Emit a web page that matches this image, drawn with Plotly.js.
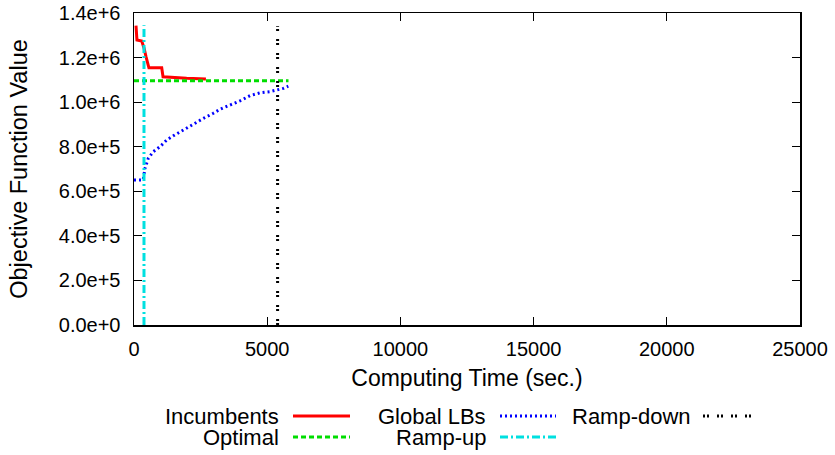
<!DOCTYPE html>
<html>
<head>
<meta charset="utf-8">
<script src="https://cdn.plot.ly/plotly-3.0.1.min.js"></script>
<style>html,body{margin:0;padding:0;background:#fff;}#chart{width:835px;height:455px;}</style>
</head>
<body>
<div id="chart"></div>
<script>
// Data
const incumbentsX = [75, 110, 290, 375, 450, 500, 560, 1040, 1090, 1975, 2700];
const incumbentsY = [1343000, 1279000, 1274000, 1243000, 1204000, 1181000, 1154000, 1154000, 1114000, 1107000, 1104000];

const optimalX = [0, 5800];
const optimalY = [1096000, 1096000];

const globalLBsX = [0, 340, 349, 413, 537, 724, 976, 1228, 1475, 1851, 2226, 2602, 2977, 3228, 3604, 3979, 4355, 4730, 5105, 5357, 5605, 5792];
const globalLBsY = [651000, 651000, 655000, 703000, 748000, 778000, 800000, 830000, 849000, 875000, 902000, 927000, 950000, 968000, 987000, 1006000, 1029000, 1042000, 1047000, 1054000, 1062000, 1072000];

const rampUpX = [375, 375];
const rampUpY = [0, 1345000];

const rampDownX = [5390, 5390];
const rampDownY = [0, 1340000];

const xTicks = [0, 5000, 10000, 15000, 20000, 25000];
const yTicks = [0, 200000, 400000, 600000, 800000, 1000000, 1200000, 1400000];

const legendRows = [
  {name: 'Incumbents', row: 0, col: 0, color: '#ff0000', dash: 'solid', width: 3},
  {name: 'Global LBs', row: 0, col: 1, color: '#0000ff', dash: '2px,3px', width: 3},
  {name: 'Ramp-down', row: 0, col: 2, color: '#000000', dash: '2px,2px,2px,8px', width: 3},
  {name: 'Optimal', row: 1, col: 0, color: '#00dd00', dash: '5px,3px', width: 3},
  {name: 'Ramp-up', row: 1, col: 1, color: '#00e0e0', dash: '8px,3px,2px,3px', width: 3}
];

const FONT = 'Liberation Sans, Arial, sans-serif';

const traces = [
  {x: incumbentsX, y: incumbentsY, mode: 'lines', line: {color: '#ff0000', width: 3}, name: 'Incumbents'},
  {x: optimalX, y: optimalY, mode: 'lines', line: {color: '#00dd00', width: 3, dash: '5px,3px'}, name: 'Optimal'},
  {x: globalLBsX, y: globalLBsY, mode: 'lines', line: {color: '#0000ff', width: 3, dash: '2px,3px'}, name: 'Global LBs'},
  {x: rampUpX, y: rampUpY, mode: 'lines', line: {color: '#00e0e0', width: 3, dash: '8px,3px,2px,3px'}, name: 'Ramp-up'},
  {x: rampDownX, y: rampDownY, mode: 'lines', line: {color: '#000000', width: 3, dash: '2px,2px,2px,8px'}, name: 'Ramp-down'}
];

// legend drawn gnuplot-style: text on the left, sample on the right
const L = 134, W = 666, T = 13, H = 312;
const px2x = p => (p - L) / W;
const py2y = p => (T + H - p) / H;
const colTextRight = [280, 487, 692];
const colSample = [[293, 350], [500, 556], [703, 753]];
const rowY = [416, 437];

const annotations = [];
const shapes = [];
legendRows.forEach(r => {
  annotations.push({
    xref: 'paper', yref: 'paper', x: px2x(colTextRight[r.col]), y: py2y(rowY[r.row]),
    xanchor: 'right', yanchor: 'middle', showarrow: false, text: r.name,
    borderpad: 0,
    font: {family: FONT, size: 22, color: '#000'}
  });
  shapes.push({
    type: 'line', xref: 'paper', yref: 'paper',
    x0: px2x(colSample[r.col][0]), x1: px2x(colSample[r.col][1]),
    y0: py2y(rowY[r.row]), y1: py2y(rowY[r.row]),
    line: {color: r.color, width: r.width, dash: r.dash}
  });
});

const layout = {
  width: 835, height: 455,
  margin: {l: L, r: 835 - L - W, t: T, b: 455 - T - H},
  paper_bgcolor: '#fff', plot_bgcolor: '#fff',
  showlegend: false,
  font: {family: FONT, color: '#000'},
  xaxis: {
    range: [0, 25000], tickvals: xTicks, ticktext: xTicks.map(String),
    ticks: 'inside', ticklen: 8, tickwidth: 1, tickcolor: '#000',
    showline: true, linecolor: '#000', linewidth: 1.5, mirror: 'allticks',
    showgrid: false, zeroline: false,
    tickfont: {family: FONT, size: 20},
    ticklabelstandoff: 5,
    title: {text: 'Computing Time (sec.)', font: {family: FONT, size: 23}, standoff: 11}
  },
  yaxis: {
    range: [0, 1400000], tickvals: yTicks, tickformat: '.1e',
    ticks: 'inside', ticklen: 8, tickwidth: 1, tickcolor: '#000',
    showline: true, linecolor: '#000', linewidth: 1.5, mirror: 'allticks',
    showgrid: false, zeroline: false,
    tickfont: {family: FONT, size: 20},
    ticklabelstandoff: 8,
    title: {text: 'Objective Function Value', font: {family: FONT, size: 23.5}, standoff: 24}
  },
  annotations: annotations,
  shapes: shapes
};

Plotly.newPlot('chart', traces, layout, {displayModeBar: false, staticPlot: true});
</script>
</body>
</html>
